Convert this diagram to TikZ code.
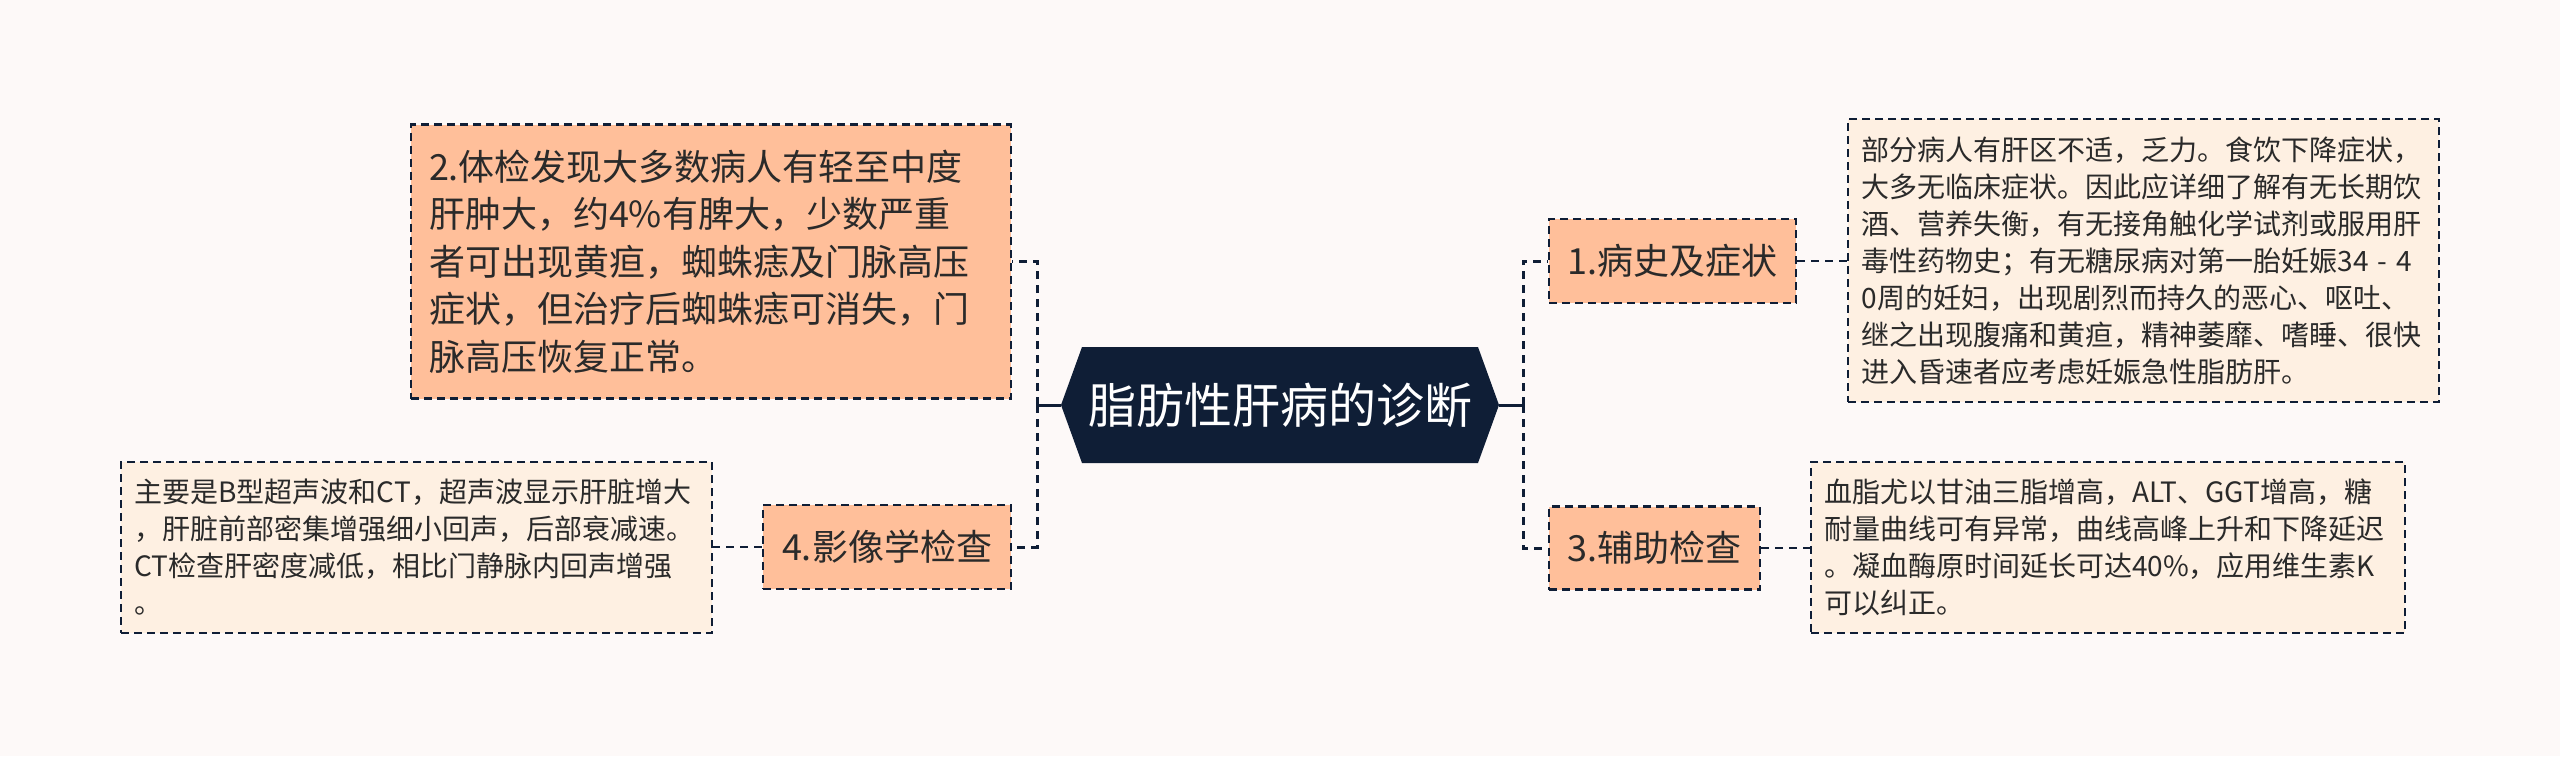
\documentclass[tikz,border=0pt]{standalone}
\usepackage{fontspec}
\setmainfont{Noto Sans CJK SC}
\definecolor{bg}{HTML}{FDF9F8}
\definecolor{navy}{HTML}{0F1E36}
\definecolor{peach}{HTML}{FFBF9A}
\definecolor{cream}{HTML}{FEF0E2}
\definecolor{txt}{HTML}{2A2A2A}
\begin{document}
\begin{tikzpicture}[x=0.5pt,y=-0.5pt,
  conn/.style={draw=navy, line width=1.5pt, dash pattern=on 4pt off 3pt},
  thinconn/.style={draw=navy, line width=1.2pt, dash pattern=on 4pt off 3pt},
  stub/.style={draw=navy, line width=1.5pt},
  topic/.style={draw=navy, line width=1.25pt, dash pattern=on 4pt off 2.5pt, fill=peach, text=txt,
    font=\fontsize{18pt}{23.7pt}\selectfont, inner sep=0pt, anchor=center},
  desc/.style={draw=navy, line width=1.25pt, dash pattern=on 4pt off 2.5pt, fill=cream, text=txt,
    font=\fontsize{14pt}{18.5pt}\selectfont, align=left, inner ysep=0pt, anchor=center}]
\useasboundingbox (0,0) rectangle (2560,756);
\fill[bg] (0,0) rectangle (2560,756);

% central hexagon
\fill[navy] (1082,347) -- (1478,347) -- (1499,405) -- (1478,463) -- (1082,463) -- (1061,405) -- cycle;
\node[text=white, font=\fontsize{24pt}{28pt}\selectfont, minimum width=198pt, minimum height=58pt] (c) at (1280,405) {脂肪性肝病的诊断};
\coordinate (cl) at (1061,405);
\coordinate (cr) at (1499,405);
\coordinate (lt) at (1037,405);
\coordinate (rt) at (1523,405);

% topics
\node[topic, minimum width=123.5pt, minimum height=42pt] (t1) at (1672.5,261) {1.病史及症状};
\node[topic, minimum width=105.5pt, minimum height=41.5pt] (t3) at (1654.5,548) {3.辅助检查};
\node[topic, minimum width=124pt, minimum height=42pt] (t4) at (887,547) {4.影像学检查};
\node[topic, align=left, text width=282pt, inner xsep=9pt, minimum height=137pt] (t2) at (711,261.5)
  {2.体检发现大多数病人有轻至中度\\肝肿大，约4\%有脾大，少数严重\\者可出现黄疸，蜘蛛痣及门脉高压\\症状，但治疗后蜘蛛痣可消失，门\\脉高压恢复正常。};

% descriptions
\node[desc, text width=282pt, inner xsep=6.75pt, minimum height=141.5pt] (d1) at (2143.5,260.5)
  {部分病人有肝区不适，乏力。食饮下降症状，\\大多无临床症状。因此应详细了解有无长期饮\\酒、营养失衡，有无接角触化学试剂或服用肝\\毒性药物史；有无糖尿病对第一胎妊娠34 - 4\\0周的妊妇，出现剧烈而持久的恶心、呕吐、\\继之出现腹痛和黄疸，精神萎靡、嗜睡、很快\\进入昏速者应考虑妊娠急性脂肪肝。};
\node[desc, text width=284pt, inner xsep=6.5pt, minimum height=85.5pt] (d3) at (2108,547.5)
  {血脂尤以甘油三脂增高，ALT、GGT增高，糖\\耐量曲线可有异常，曲线高峰上升和下降延迟\\。凝血酶原时间延长可达40\%，应用维生素K\\可以纠正。};
\node[desc, text width=282pt, inner xsep=6.75pt, minimum height=85.5pt] (d4) at (416.5,547.5)
  {主要是B型超声波和CT，超声波显示肝脏增大\\，肝脏前部密集增强细小回声，后部衰减速。\\CT检查肝密度减低，相比门静脉内回声增强\\。};

% connectors
\draw[stub] (cl) -- (lt);
\draw[stub] (cr) -- (rt);
\draw[conn] (lt) |- (t2.east);
\draw[conn] (lt) |- (t4.east);
\draw[conn] (rt) |- (t1.west);
\draw[conn] (rt) |- (t3.west);
\draw[thinconn] (t1.east) -- (d1.west |- t1.east);
\draw[thinconn] (t3.east) -- (d3.west |- t3.east);
\draw[thinconn] (t4.west) -- (d4.east |- t4.west);
\end{tikzpicture}
\end{document}
